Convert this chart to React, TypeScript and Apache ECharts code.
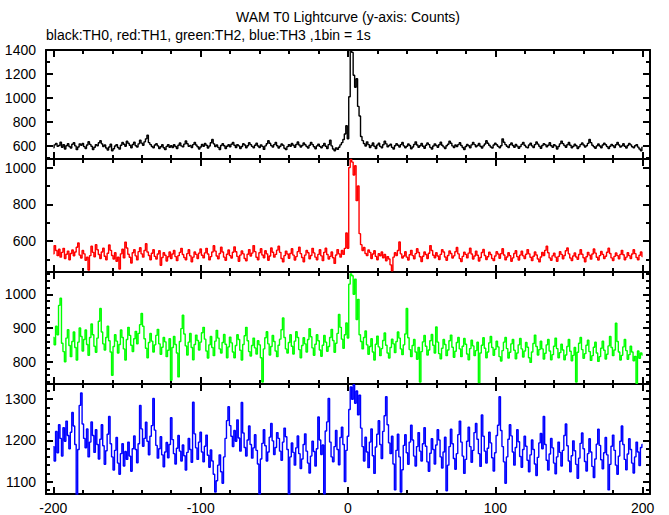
import React, { useEffect, useRef } from "react";
import * as echarts from "echarts";

const X_START = -200;

const th0 = [
  585, 610, 622, 598, 605, 631, 590, 612, 575, 603, 620, 596, 583, 615, 628, 601, 570, 592, 618, 607,
  622, 595, 580, 609, 636, 614, 598, 571, 590, 612, 603, 627, 645, 618, 596, 609, 584, 566, 592, 615,
  560, 578, 600, 612, 588, 574, 606, 629, 615, 598, 640, 623, 607, 586, 613, 631, 602, 592, 618, 649,
  624, 606, 635, 660, 690, 628, 612, 596, 585, 608, 620, 601, 579, 594, 611, 586, 570, 597, 612, 590,
  603, 588, 611, 596, 580, 607, 625, 601, 593, 616, 642, 619, 598, 605, 587, 612, 630, 608, 594, 575,
  592, 613, 598, 622, 606, 584, 600, 627, 655, 618, 596, 608, 589, 571, 604, 620, 603, 580, 598, 611,
  594, 615, 630, 607, 588, 612, 601, 579, 596, 619, 608, 586, 603, 628, 612, 597, 585, 606, 624, 600,
  588, 610, 597, 572, 601, 619, 645, 623, 605, 591, 612, 629, 603, 584, 598, 617, 606, 582, 570, 595,
  612, 598, 621, 606, 589, 613, 634, 608, 592, 604, 625, 611, 596, 583, 607, 630, 612, 594, 578, 601,
  616, 597, 585, 603, 622, 598, 580, 612, 648, 601, 575, 560, 585, 572, 590, 610, 628, 655, 700, 770,
  660, 1010, 1420, 1380, 1190, 1090, 1160, 930, 850, 680, 645, 620, 600, 635, 612, 588, 604, 625, 598, 580,
  609, 623, 597, 586, 611, 640, 618, 593, 604, 615, 589, 575, 602, 620, 607, 591, 612, 630, 601, 586,
  598, 617, 604, 578, 592, 613, 635, 609, 590, 603, 621, 598, 582, 607, 626, 612, 589, 575, 600, 618,
  604, 589, 611, 632, 607, 593, 580, 602, 615, 640, 623, 601, 587, 609, 596, 612, 628, 605, 588, 571,
  596, 613, 602, 586, 610, 629, 612, 594, 605, 621, 598, 583, 601, 617, 645, 623, 606, 592, 584, 608,
  624, 611, 597, 585, 603, 660, 632, 612, 598, 587, 611, 626, 604, 590, 613, 599, 582, 596, 614, 630,
  607, 592, 585, 608, 623, 601, 587, 612, 634, 616, 598, 581, 604, 620, 611, 593, 607, 628, 602, 589,
  612, 601, 575, 596, 618, 641, 620, 604, 590, 611, 629, 607, 586, 598, 615, 603, 580, 594, 612, 626,
  609, 591, 603, 622, 655, 628, 607, 594, 582, 601, 617, 600, 586, 608, 624, 611, 595, 579, 598, 614,
  603, 588, 611, 630, 609, 592, 601, 620, 598, 583, 605, 622, 610, 594, 586, 603, 612, 591, 575, 560,
  590,
];

const th1 = [
  530, 575, 548, 520, 555, 512, 538, 560, 505, 528, 545, 498, 532, 551, 519, 540, 566, 589, 523, 507,
  548, 530, 495, 512, 442, 520, 571, 538, 514, 580, 552, 526, 505, 540, 561, 517, 498, 533, 578, 549,
  521, 502, 536, 490, 512, 447, 530, 555, 508, 594, 562, 528, 511, 480, 536, 552, 519, 497, 542, 563,
  530, 512, 548, 585, 540, 521, 498, 533, 552, 516, 502, 529, 547, 468, 510, 536, 522, 491, 514, 540,
  505, 529, 548, 515, 493, 520, 538, 560, 526, 510, 498, 531, 552, 519, 487, 512, 540, 527, 505, 534,
  556, 522, 508, 535, 560, 529, 497, 515, 540, 574, 545, 518, 503, 532, 566, 540, 512, 495, 528, 551,
  520, 507, 539, 568, 541, 516, 489, 523, 546, 530, 505, 492, 528, 553, 518, 534, 575, 542, 511, 498,
  536, 558, 524, 509, 547, 530, 495, 518, 562, 539, 512, 527, 550, 571, 538, 505, 486, 520, 545, 529,
  506, 532, 558, 523, 496, 515, 542, 566, 531, 510, 487, 523, 548, 536, 503, 521, 560, 535, 512, 498,
  527, 552, 519, 493, 538, 561, 526, 502, 516, 540, 509, 478, 524, 553, 530, 512, 548, 527, 560, 644,
  560, 1000, 1045, 1030, 960, 1010, 820, 900, 640, 580, 548, 565, 532, 520, 551, 538, 505, 529, 547, 516,
  498, 531, 519, 540, 508, 527, 492, 515, 502, 470, 438, 512, 536, 521, 548, 595, 530, 507, 518, 542,
  512, 496, 525, 549, 520, 503, 531, 558, 537, 514, 488, 517, 540, 526, 505, 533, 575, 548, 522, 509,
  536, 518, 499, 527, 552, 540, 513, 495, 521, 546, 532, 507, 519, 541, 565, 530, 504, 488, 516, 539,
  527, 508, 534, 561, 529, 502, 518, 545, 522, 491, 510, 537, 554, 521, 499, 514, 539, 526, 505, 493,
  518, 542, 529, 506, 531, 558, 524, 497, 513, 536, 520, 489, 508, 532, 547, 515, 496, 523, 544, 519,
  504, 528, 553, 530, 511, 493, 517, 540, 524, 502, 486, 513, 538, 521, 549, 572, 536, 508, 495, 519,
  533, 512, 490, 516, 541, 527, 503, 521, 547, 562, 530, 507, 494, 518, 535, 513, 500, 526, 552, 528,
  509, 487, 514, 538, 523, 501, 529, 556, 534, 511, 496, 520, 543, 527, 505, 517, 539, 561, 532, 508,
  494, 516, 535, 520, 503, 527, 549, 525, 498, 512, 536, 520, 505, 529, 552, 531, 510, 497, 522, 540,
  515,
];

const th2 = [
  872, 850, 905, 880, 967, 988, 855, 830, 800, 870, 895, 848, 815, 860, 888, 842, 805, 858, 900, 875,
  832, 866, 894, 851, 819, 872, 912, 880, 846, 828, 870, 920, 958, 888, 853, 835, 872, 905, 862, 829,
  760, 845, 880, 861, 826, 851, 894, 872, 838, 805, 866, 902, 878, 849, 830, 868, 890, 853, 884, 910,
  943, 905, 868, 840, 812, 857, 884, 861, 829, 850, 878, 896, 853, 822, 843, 872, 859, 815, 834, 868,
  745, 842, 875, 851, 826, 755, 860, 898, 938, 882, 847, 820, 858, 884, 842, 806, 851, 879, 863, 835,
  858, 886, 902, 867, 832, 811, 850, 875, 842, 818, 861, 893, 870, 838, 826, 857, 881, 852, 812, 844,
  873, 856, 829, 812, 848, 880, 866, 834, 805, 851, 877, 902, 862, 830, 817, 848, 870, 841, 823, 862,
  850, 812, 740, 838, 871, 889, 853, 820, 845, 878, 860, 832, 815, 849, 867, 895, 930, 872, 838, 826,
  857, 880, 846, 823, 861, 889, 872, 836, 812, 848, 871, 853, 829, 866, 898, 874, 841, 819, 852, 880,
  862, 835, 816, 849, 878, 858, 831, 845, 872, 896, 863, 828, 855, 884, 940, 902, 867, 840, 880, 915,
  870, 1030, 1060, 1055, 1000, 1045, 925, 985, 880, 860, 838, 872, 891, 850, 822, 845, 868, 829, 805, 852,
  876, 844, 818, 839, 863, 885, 849, 826, 811, 842, 867, 853, 827, 860, 888, 870, 838, 821, 850, 882,
  958, 871, 836, 815, 848, 866, 829, 807, 842, 740, 830, 859, 878, 846, 820, 835, 862, 881, 849, 826,
  903, 858, 824, 809, 840, 866, 851, 818, 835, 862, 879, 843, 813, 831, 857, 872, 838, 815, 846, 869,
  852, 823, 806, 839, 864, 847, 818, 833, 858, 738, 826, 849, 871, 840, 812, 829, 856, 875, 842, 819,
  837, 861, 844, 815, 802, 833, 858, 872, 839, 811, 828, 853, 866, 834, 809, 826, 850, 869, 838, 814,
  832, 857, 843, 812, 798, 829, 854, 879, 845, 820, 836, 861, 838, 808, 825, 850, 866, 832, 806, 821,
  846, 870, 839, 812, 827, 852, 835, 806, 820, 845, 866, 831, 803, 819, 842, 740, 828, 855, 872, 836,
  810, 824, 849, 864, 830, 804, 818, 843, 858, 826, 801, 815, 840, 861, 834, 808, 822, 847, 875, 842,
  818, 835, 914, 860, 829, 805, 819, 844, 866, 833, 807, 821, 846, 829, 803, 816, 736, 832, 810, 826,
  820,
];

const th3 = [
  1185, 1150, 1222, 1170, 1238, 1205, 1162, 1231, 1198, 1247, 1212, 1180, 1220, 1268, 1235, 1190, 1060, 1178, 1285, 1315,
  1240, 1205, 1182, 1228, 1160, 1196, 1245, 1212, 1171, 1226, 1190, 1155, 1203, 1238, 1187, 1142, 1175, 1215, 1258, 1192,
  1160, 1128, 1176, 1207, 1145, 1118, 1168, 1192, 1138, 1173, 1154, 1196, 1162, 1125, 1180, 1211, 1178, 1146, 1192, 1285,
  1228, 1186, 1205, 1244, 1198, 1165, 1210, 1236, 1302, 1225, 1188, 1157, 1180, 1209, 1165, 1136, 1172, 1195, 1158, 1190,
  1255, 1202, 1168, 1143, 1181, 1212, 1174, 1150, 1189, 1163, 1128, 1171, 1205, 1178, 1147, 1293, 1216, 1182, 1154, 1196,
  1220, 1172, 1148, 1186, 1213, 1164, 1135, 1177, 1150, 1118, 1075, 1102, 1140, 1165, 1124, 1096, 1160, 1205, 1248, 1282,
  1236, 1210, 1185, 1224, 1198, 1250, 1206, 1174, 1292, 1218, 1183, 1162, 1201, 1235, 1190, 1157, 1182, 1214, 1176, 1143,
  1070, 1155, 1193, 1226, 1187, 1150, 1172, 1208, 1241, 1199, 1166, 1183, 1219, 1205, 1174, 1152, 1196, 1230, 1209, 1178,
  1070, 1160, 1194, 1171, 1140, 1182, 1211, 1168, 1132, 1155, 1190, 1216, 1174, 1145, 1121, 1162, 1198, 1173, 1138, 1180,
  1257, 1201, 1166, 1189, 1070, 1223, 1245, 1302, 1196, 1160, 1148, 1185, 1224, 1178, 1141, 1207, 1232, 1190, 1100, 1176,
  1210, 1275, 1330, 1300, 1335, 1290, 1320, 1262, 1310, 1230, 1185, 1150, 1208, 1172, 1134, 1196, 1228, 1163, 1120, 1184,
  1215, 1248, 1190, 1156, 1222, 1260, 1306, 1238, 1194, 1168, 1210, 1143, 1080, 1176, 1215, 1160, 1075, 1129, 1188, 1214,
  1170, 1142, 1196, 1237, 1201, 1162, 1138, 1185, 1219, 1174, 1150, 1192, 1231, 1186, 1148, 1125, 1169, 1204, 1178, 1143,
  1189, 1226, 1201, 1160, 1133, 1172, 1208, 1078, 1140, 1185, 1227, 1192, 1156, 1130, 1168, 1214, 1247, 1196, 1162, 1120,
  1154, 1198, 1232, 1185, 1147, 1176, 1219, 1241, 1203, 1168, 1137, 1262, 1210, 1174, 1145, 1181, 1220, 1194, 1158, 1126,
  1170, 1212, 1237, 1306, 1224, 1185, 1148, 1096, 1160, 1203, 1238, 1211, 1172, 1140, 1183, 1226, 1197, 1161, 1135, 1178,
  1210, 1186, 1152, 1124, 1165, 1201, 1178, 1143, 1115, 1159, 1194, 1217, 1180, 1258, 1190, 1152, 1128, 1167, 1205, 1182,
  1145, 1119, 1160, 1196, 1171, 1138, 1176, 1212, 1240, 1187, 1150, 1124, 1163, 1199, 1175, 1142, 1108, 1157, 1193, 1218,
  1180, 1149, 1126, 1168, 1204, 1172, 1137, 1110, 1155, 1191, 1227, 1188, 1153, 1131, 1170, 1207, 1165, 1080, 1142, 1186,
  1213, 1176, 1140, 1118, 1162, 1198, 1235, 1190, 1154, 1129, 1167, 1204, 1178, 1145, 1121, 1160, 1196, 1172, 1139, 1183,
  1190,
];

const xMajorTicks = [-200, -100, 0, 100, 200];
const xMinorTicks = [-180, -160, -140, -120, -80, -60, -40, -20, 20, 40, 60, 80, 120, 140, 160, 180];

const y0Major = [600, 800, 1000, 1200, 1400];
const y0Minor = [500, 700, 900, 1100, 1300];
const y1Major = [600, 800, 1000];
const y1Minor = [500, 700, 900];
const y2Major = [800, 900, 1000];
const y2Minor = [740, 760, 780, 820, 840, 860, 880, 920, 940, 960, 980, 1020, 1040, 1060];
const y3Major = [1100, 1200, 1300];
const y3Minor = [1080, 1120, 1140, 1160, 1180, 1220, 1240, 1260, 1280, 1320];

const titleText = "WAM T0 Lightcurve (y-axis: Counts)";
const subtitleText = "black:TH0, red:TH1, green:TH2, blue:TH3 ,1bin = 1s";

const panels = [
  { data: th0, color: "#000000", min: 492, max: 1400, major: y0Major, minor: y0Minor },
  { data: th1, color: "#ff0000", min: 431, max: 1047, major: y1Major, minor: y1Minor },
  { data: th2, color: "#00ff00", min: 734, max: 1066, major: y2Major, minor: y2Minor },
  { data: th3, color: "#0000ff", min: 1070, max: 1337, major: y3Major, minor: y3Minor },
];

const X_MIN = -205;
const X_MAX = 205;
const FONT = "'Liberation Sans', Arial, Helvetica, sans-serif";

export default function App() {
  const ref = useRef<HTMLDivElement>(null);
  useEffect(() => {
    if (!ref.current) return;
    const chart = echarts.init(ref.current, undefined, { renderer: "svg" });
    const tops = [50, 159, 272, 384];
    const heights = [109, 113, 112, 111];
    const grids: any[] = [];
    const xAxes: any[] = [];
    const yAxes: any[] = [];
    const series: any[] = [];
    panels.forEach((p, i) => {
      grids.push({ left: 46, right: 19, top: tops[i], height: heights[i] });
      const xb = xAxes.length;
      const mkX = (position: string, ticks: number[], len: number, line: boolean, label: boolean) => ({
        type: "value",
        gridIndex: i,
        min: X_MIN,
        max: X_MAX,
        position,
        axisLine: { show: line, onZero: false, lineStyle: { color: "#000", width: 2 } },
        axisTick: { show: true, inside: true, length: len, customValues: ticks, lineStyle: { color: "#000", width: 2 } },
        axisLabel: {
          show: label,
          customValues: ticks,
          formatter: (v: number) => String(v),
          color: "#000",
          fontSize: 14,
          fontFamily: FONT,
          margin: 7,
        },
        splitLine: { show: false },
      });
      xAxes.push(mkX("bottom", xMajorTicks, 7, true, i === 3));
      xAxes.push(mkX("top", xMajorTicks, 7, true, false));
      xAxes.push(mkX("bottom", xMinorTicks, 4, false, false));
      xAxes.push(mkX("top", xMinorTicks, 4, false, false));
      const yb = yAxes.length;
      const mkY = (position: string, ticks: number[], len: number, line: boolean, label: boolean) => ({
        type: "value",
        gridIndex: i,
        min: p.min,
        max: p.max,
        position,
        axisLine: { show: line, onZero: false, lineStyle: { color: "#000", width: 2 } },
        axisTick: { show: true, inside: true, length: len, customValues: ticks, lineStyle: { color: "#000", width: 2 } },
        axisLabel: {
          show: label,
          customValues: ticks,
          formatter: (v: number) => String(v),
          color: "#000",
          fontSize: 14,
          fontFamily: FONT,
          margin: 10,
        },
        splitLine: { show: false },
      });
      yAxes.push(mkY("left", p.major, 7, true, true));
      yAxes.push(mkY("right", p.major, 7, true, false));
      yAxes.push(mkY("left", p.minor, 4, false, false));
      yAxes.push(mkY("right", p.minor, 4, false, false));
      series.push({
        type: "line",
        xAxisIndex: xb,
        yAxisIndex: yb,
        data: p.data.map((v, k) => [X_START + k, v]),
        step: "middle",
        symbol: "none",
        silent: true,
        lineStyle: { color: p.color, width: 1.4 },
      });
    });
    chart.setOption({
      animation: false,
      backgroundColor: "#ffffff",
      grid: grids,
      xAxis: xAxes,
      yAxis: yAxes,
      series,
      graphic: [
        {
          type: "text",
          x: 348,
          y: 17,
          style: { text: titleText, fill: "#000", font: `14px ${FONT}`, textAlign: "center", textVerticalAlign: "middle" },
        },
        {
          type: "text",
          x: 46,
          y: 35,
          style: { text: subtitleText, fill: "#000", font: `14px ${FONT}`, textAlign: "left", textVerticalAlign: "middle" },
        },
      ],
    });
    return () => chart.dispose();
  }, []);
  return (
    <div
      ref={ref}
      style={{ position: "fixed", left: 0, top: 0, width: 669, height: 515, background: "#fff" }}
    />
  );
}
